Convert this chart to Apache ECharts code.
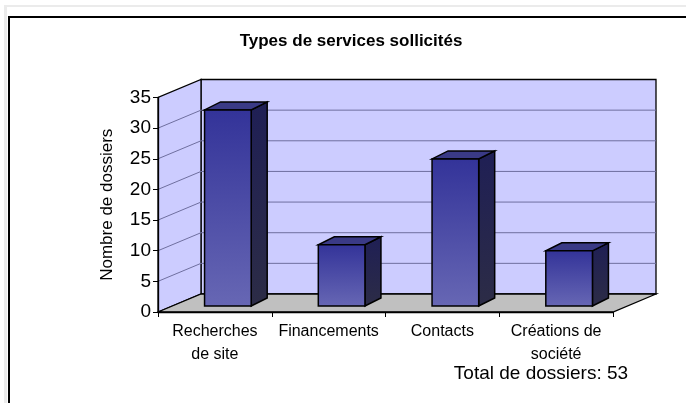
<!DOCTYPE html>
<html>
<head>
<meta charset="utf-8">
<script src="https://cdn.jsdelivr.net/npm/echarts@6/dist/echarts.min.js"></script>
<style>
  html, body { margin: 0; padding: 0; background: #fff; }
  #chart { width: 686px; height: 403px; }
</style>
</head>
<body>
<div id="chart"></div>
<script>
// data
const categories = ['Recherches\nde site', 'Financements', 'Contacts', 'Créations de\nsociété'];
const dossiers = [32, 10, 24, 9];
const yTicks = [0, 5, 10, 15, 20, 25, 30, 35];
const totalDossiers = 53;

// fake 3d: offsets of back wall and of the bars from the front plane
const DEPTH = [43, -18];
const BAR_FRONT = [13, -6];
const BAR_BACK = [29, -14];
const font = "'Liberation Sans', Arial, sans-serif";
const edge = { stroke: '#000', lineWidth: 1.3 };

function renderWalls(params, api) {
  const cs = params.coordSys;
  const left = cs.x;
  const right = cs.x + cs.width;
  const floor = api.coord([0, 0])[1];
  const top = api.coord([0, yTicks[yTicks.length - 1]])[1];
  const [dx, dy] = DEPTH;
  const children = [];

  // back wall
  children.push({
    type: 'polygon',
    shape: { points: [[left + dx, top + dy], [right + dx, top + dy], [right + dx, floor + dy], [left + dx, floor + dy]] },
    style: { fill: '#ccccff', ...edge },
  });
  // side wall
  children.push({
    type: 'polygon',
    shape: { points: [[left, floor], [left, top], [left + dx, top + dy], [left + dx, floor + dy]] },
    style: { fill: '#ccccff', ...edge },
  });
  // floor
  children.push({
    type: 'polygon',
    shape: { points: [[left, floor], [right, floor], [right + dx, floor + dy], [left + dx, floor + dy]] },
    style: { fill: '#c0c0c0', ...edge },
  });

  yTicks.forEach((t) => {
    if (t === 0 || t === yTicks[yTicks.length - 1]) return;
    const y = api.coord([0, t])[1];
    children.push({
      type: 'polyline',
      shape: { points: [[left, y], [left + dx, y + dy], [right + dx, y + dy]] },
      style: { stroke: '#6f6f9f', lineWidth: 1, fill: null },
    });
  });

  return { type: 'group', children };
}

function renderBar(params, api) {
  const top = api.coord([api.value(0), api.value(1)]);
  const base = api.coord([api.value(0), 0]);
  const w = api.size([1, 0])[0] * 0.41;
  const x0 = top[0] - w / 2 + BAR_FRONT[0];
  const x1 = x0 + w;
  const yT = top[1] + BAR_FRONT[1];
  const yB = base[1] + BAR_FRONT[1];
  const ddx = BAR_BACK[0] - BAR_FRONT[0];
  const ddy = BAR_BACK[1] - BAR_FRONT[1];

  return {
    type: 'group',
    children: [
      {
        type: 'polygon',
        shape: { points: [[x1, yB], [x1, yT], [x1 + ddx, yT + ddy], [x1 + ddx, yB + ddy]] },
        style: {
          fill: new echarts.graphic.LinearGradient(0, 0, 0, 1, [
            { offset: 0, color: '#1f1f55' },
            { offset: 1, color: '#2c2c46' },
          ]),
          stroke: '#000', lineWidth: 1.5,
        },
      },
      {
        type: 'polygon',
        shape: { points: [[x0, yT], [x1, yT], [x1 + ddx, yT + ddy], [x0 + ddx, yT + ddy]] },
        style: { fill: '#3a3a86', stroke: '#000', lineWidth: 1.5 },
      },
      {
        type: 'rect',
        shape: { x: x0, y: yT, width: w, height: yB - yT },
        style: {
          fill: new echarts.graphic.LinearGradient(0, 0, 0, 1, [
            { offset: 0, color: '#333399' },
            { offset: 1, color: '#6767b4' },
          ]),
          stroke: '#000', lineWidth: 1.5,
        },
      },
    ],
  };
}

const chart = echarts.init(document.getElementById('chart'), null, { renderer: 'canvas' });

const option = {
  animation: false,
  backgroundColor: '#fff',
  textStyle: { fontFamily: font },
  grid: { left: 158, right: 73, top: 97.5, bottom: 91 },
  xAxis: {
    type: 'category',
    data: categories,
    z: 10,
    axisLine: { lineStyle: { color: '#000', width: 1.3 } },
    axisTick: { show: true, length: 5, lineStyle: { color: '#000' } },
    axisLabel: { color: '#000', fontSize: 16, lineHeight: 23, margin: 8, interval: 0 },
  },
  yAxis: {
    type: 'value',
    min: 0,
    max: 35,
    interval: 5,
    z: 10,
    name: 'Nombre de dossiers',
    nameLocation: 'middle',
    nameGap: 42,
    nameTextStyle: { color: '#000', fontSize: 17 },
    axisLine: { show: true, lineStyle: { color: '#000', width: 1.3 } },
    axisTick: { show: true, length: 5, lineStyle: { color: '#000' } },
    axisLabel: { color: '#000', fontSize: 19, margin: 7 },
    splitLine: { show: false },
  },
  graphic: [
    { type: 'rect', shape: { x: 4, y: 5, width: 682, height: 2 }, style: { fill: '#ebebeb' } },
    { type: 'rect', shape: { x: 4, y: 5, width: 3, height: 398 }, style: { fill: '#ebebeb' } },
    { type: 'line', shape: { x1: 9, y1: 17, x2: 686, y2: 17 }, style: { stroke: '#000', lineWidth: 2 } },
    { type: 'line', shape: { x1: 9, y1: 16, x2: 9, y2: 403 }, style: { stroke: '#000', lineWidth: 2 } },
    {
      type: 'text', x: 351, y: 41,
      style: { text: 'Types de services sollicités', font: 'bold 17px ' + font, fill: '#000', textAlign: 'center', textVerticalAlign: 'middle' },
    },
    {
      type: 'text', x: 541, y: 374,
      style: { text: 'Total de dossiers: ' + totalDossiers, font: '19px ' + font, fill: '#000', textAlign: 'center', textVerticalAlign: 'middle' },
    },
  ],
  series: [
    {
      name: 'walls',
      type: 'custom',
      z: 1,
      silent: true,
      renderItem: renderWalls,
      data: [[0, 0]],
    },
    {
      name: 'Nombre de dossiers',
      type: 'custom',
      z: 3,
      renderItem: renderBar,
      data: dossiers.map((v, i) => [i, v]),
    },
  ],
};

chart.setOption(option);
</script>
</body>
</html>
